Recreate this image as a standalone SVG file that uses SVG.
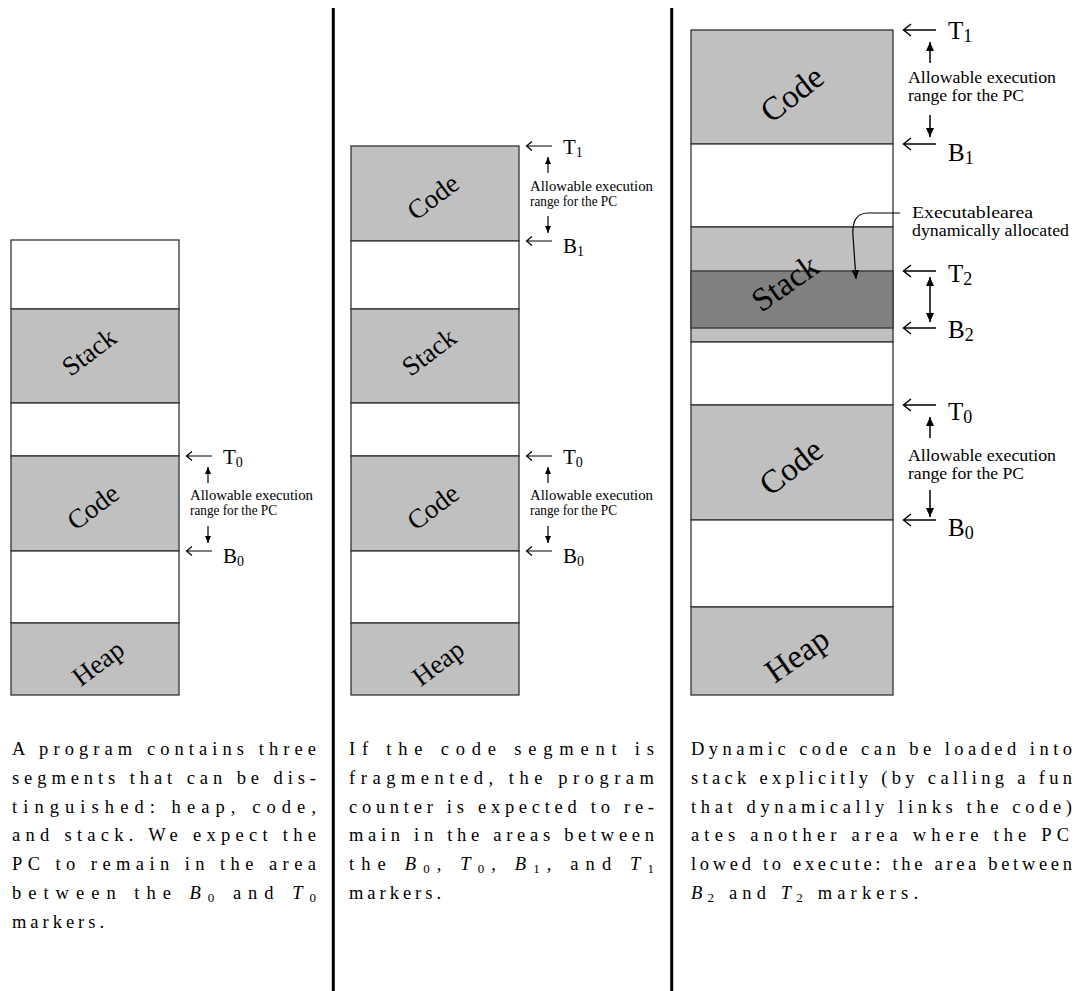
<svg xmlns="http://www.w3.org/2000/svg" width="1075" height="991" viewBox="0 0 1075 991">
<style>
.w{fill:#fff;stroke:#333;stroke-width:1.3}
.g{fill:#c0c0c0;stroke:#333;stroke-width:1.3}
.d{fill:#808080;stroke:#333;stroke-width:1.3}
.seg{font-family:"Liberation Serif","Times New Roman",serif;fill:#000;text-anchor:middle}
.s1{font-size:27px}
.s3{font-size:33px}
.lbl{font-family:"Liberation Serif","Times New Roman",serif;fill:#000}
.m1{font-size:21px}
.m3{font-size:25px}
.a1{font-size:14px}
.a3{font-size:17px}
.para{font-family:"Liberation Serif","Times New Roman",serif;font-size:18.5px;fill:#000}
.ar{fill:none;stroke:#000;stroke-width:1.2}
.ar3{fill:none;stroke:#000;stroke-width:1.5}
.sep{stroke:#000;stroke-width:3}
</style>
<defs>
<marker id="hs" markerUnits="userSpaceOnUse" markerWidth="7" markerHeight="6" refX="7" refY="3" orient="auto"><path d="M0,0 L7,3 L0,6Z" fill="#000"/></marker>
<marker id="hl" markerUnits="userSpaceOnUse" markerWidth="9" markerHeight="8" refX="9" refY="4" orient="auto-start-reverse"><path d="M0,0 L9,4 L0,8Z" fill="#000"/></marker>
</defs>

<g id="separators">
<line class="sep" x1="333.3" y1="8" x2="333.3" y2="991"/>
<line class="sep" x1="671.7" y1="8" x2="671.7" y2="991"/>
</g>

<!-- Column 1 -->
<g id="c1-free-top"><rect class="w" x="11" y="240" width="168" height="69"/></g>
<g id="c1-stack"><rect class="g" x="11" y="309" width="168" height="94"/><text class="seg s1" x="89" y="352" dy="9" transform="rotate(-37 89 352)">Stack</text></g>
<g id="c1-free-mid"><rect class="w" x="11" y="403" width="168" height="53"/></g>
<g id="c1-code"><rect class="g" x="11" y="456" width="168" height="95"/><text class="seg s1" x="93" y="507" dy="9" transform="rotate(-37 93 507)">Code</text></g>
<g id="c1-free-low"><rect class="w" x="11" y="551" width="168" height="72"/></g>
<g id="c1-heap"><rect class="g" x="11" y="623" width="168" height="72"/><text class="seg s1" x="98" y="663" dy="9" transform="rotate(-37 98 663)">Heap</text></g>
<g id="c1-labels">
<text class="lbl m1" x="223" y="464">T<tspan dy="3" font-size="14">0</tspan></text>
<text class="lbl m1" x="223" y="563">B<tspan dy="3" font-size="14">0</tspan></text>
<text class="lbl a1" x="190" y="500" textLength="123" lengthAdjust="spacingAndGlyphs">Allowable execution</text>
<text class="lbl a1" x="190" y="515" textLength="87" lengthAdjust="spacingAndGlyphs">range for the PC</text>
</g>

<!-- Column 2 -->
<g id="c2-code-top"><rect class="g" x="351" y="146" width="168" height="95"/><text class="seg s1" x="433" y="197" dy="9" transform="rotate(-37 433 197)">Code</text></g>
<g id="c2-free-top"><rect class="w" x="351" y="241" width="168" height="68"/></g>
<g id="c2-stack"><rect class="g" x="351" y="309" width="168" height="94"/><text class="seg s1" x="429" y="352" dy="9" transform="rotate(-37 429 352)">Stack</text></g>
<g id="c2-free-mid"><rect class="w" x="351" y="403" width="168" height="53"/></g>
<g id="c2-code"><rect class="g" x="351" y="456" width="168" height="95"/><text class="seg s1" x="433" y="507" dy="9" transform="rotate(-37 433 507)">Code</text></g>
<g id="c2-free-low"><rect class="w" x="351" y="551" width="168" height="72"/></g>
<g id="c2-heap"><rect class="g" x="351" y="623" width="168" height="72"/><text class="seg s1" x="438" y="663" dy="9" transform="rotate(-37 438 663)">Heap</text></g>
<g id="c2-labels">
<text class="lbl m1" x="563" y="154">T<tspan dy="3" font-size="14">1</tspan></text>
<text class="lbl m1" x="563" y="253">B<tspan dy="3" font-size="14">1</tspan></text>
<text class="lbl a1" x="530" y="191" textLength="123" lengthAdjust="spacingAndGlyphs">Allowable execution</text>
<text class="lbl a1" x="530" y="206" textLength="87" lengthAdjust="spacingAndGlyphs">range for the PC</text>
<text class="lbl m1" x="563" y="464">T<tspan dy="3" font-size="14">0</tspan></text>
<text class="lbl m1" x="563" y="563">B<tspan dy="3" font-size="14">0</tspan></text>
<text class="lbl a1" x="530" y="500" textLength="123" lengthAdjust="spacingAndGlyphs">Allowable execution</text>
<text class="lbl a1" x="530" y="515" textLength="87" lengthAdjust="spacingAndGlyphs">range for the PC</text>
</g>

<!-- Column 3 -->
<g id="c3-code-top"><rect class="g" x="691" y="30" width="202" height="114"/><text class="seg s3" x="792" y="94" dy="11" transform="rotate(-38 792 94)">Code</text></g>
<g id="c3-free-top"><rect class="w" x="691" y="144" width="202" height="83"/></g>
<g id="c3-stack"><rect class="g" x="691" y="227" width="202" height="115"/><rect class="d" x="691" y="271" width="202" height="57"/><text class="seg s3" x="785" y="283" dy="11" transform="rotate(-35 785 283)">Stack</text></g>
<g id="c3-free-mid"><rect class="w" x="691" y="342" width="202" height="63"/></g>
<g id="c3-code"><rect class="g" x="691" y="405" width="202" height="115"/><text class="seg s3" x="791" y="467" dy="11" transform="rotate(-38 791 467)">Code</text></g>
<g id="c3-free-low"><rect class="w" x="691" y="520" width="202" height="87"/></g>
<g id="c3-heap"><rect class="g" x="691" y="607" width="202" height="88"/><text class="seg s3" x="797" y="655" dy="11" transform="rotate(-35 797 655)">Heap</text></g>
<g id="c3-labels">
<text class="lbl m3" x="948" y="39">T<tspan dy="3" font-size="18">1</tspan></text>
<text class="lbl m3" x="948" y="161">B<tspan dy="3" font-size="18">1</tspan></text>
<text class="lbl a3" x="908" y="83" textLength="148" lengthAdjust="spacingAndGlyphs">Allowable execution</text>
<text class="lbl a3" x="908" y="101" textLength="116" lengthAdjust="spacingAndGlyphs">range for the PC</text>
<text class="lbl a3" x="912" y="218" textLength="121" lengthAdjust="spacingAndGlyphs">Executablearea</text>
<text class="lbl a3" x="912" y="236" textLength="157" lengthAdjust="spacingAndGlyphs">dynamically allocated</text>
<text class="lbl m3" x="948" y="282">T<tspan dy="3" font-size="18">2</tspan></text>
<text class="lbl m3" x="948" y="338">B<tspan dy="3" font-size="18">2</tspan></text>
<text class="lbl m3" x="948" y="420">T<tspan dy="3" font-size="18">0</tspan></text>
<text class="lbl m3" x="948" y="536">B<tspan dy="3" font-size="18">0</tspan></text>
<text class="lbl a3" x="908" y="461" textLength="148" lengthAdjust="spacingAndGlyphs">Allowable execution</text>
<text class="lbl a3" x="908" y="479" textLength="116" lengthAdjust="spacingAndGlyphs">range for the PC</text>
</g>

<g id="connectors">
<path class="ar" d="M212,456 H187 M192,451.5 L186.5,456 L192,460.5"/>
<path class="ar" d="M212,551 H187 M192,546.5 L186.5,551 L192,555.5"/>
<line class="ar" x1="208" y1="483" x2="208" y2="467" marker-end="url(#hs)"/>
<line class="ar" x1="208" y1="526" x2="208" y2="543" marker-end="url(#hs)"/>
<path class="ar" d="M552,146 H527 M532,141.5 L526.5,146 L532,150.5"/>
<path class="ar" d="M552,241 H527 M532,236.5 L526.5,241 L532,245.5"/>
<line class="ar" x1="548" y1="173" x2="548" y2="157" marker-end="url(#hs)"/>
<line class="ar" x1="548" y1="216" x2="548" y2="233" marker-end="url(#hs)"/>
<path class="ar" d="M552,456 H527 M532,451.5 L526.5,456 L532,460.5"/>
<path class="ar" d="M552,551 H527 M532,546.5 L526.5,551 L532,555.5"/>
<line class="ar" x1="548" y1="483" x2="548" y2="467" marker-end="url(#hs)"/>
<line class="ar" x1="548" y1="526" x2="548" y2="543" marker-end="url(#hs)"/>
<path class="ar3" d="M936,30 H904 M911,24 L903.5,30 L911,36"/>
<path class="ar3" d="M936,144 H904 M911,138 L903.5,144 L911,150"/>
<line class="ar3" x1="930" y1="63" x2="930" y2="42" marker-end="url(#hl)"/>
<line class="ar3" x1="930" y1="115" x2="930" y2="137" marker-end="url(#hl)"/>
<path class="ar3" d="M936,271 H904 M911,265 L903.5,271 L911,277"/>
<path class="ar3" d="M936,328 H904 M911,322 L903.5,328 L911,334"/>
<line class="ar3" x1="930" y1="277" x2="930" y2="322" marker-start="url(#hl)" marker-end="url(#hl)"/>
<path class="ar3" d="M936,405 H904 M911,399 L903.5,405 L911,411"/>
<path class="ar3" d="M936,520 H904 M911,514 L903.5,520 L911,526"/>
<line class="ar3" x1="930" y1="438" x2="930" y2="417" marker-end="url(#hl)"/>
<line class="ar3" x1="930" y1="490" x2="930" y2="517" marker-end="url(#hl)"/>
<path class="ar" d="M900,213 H868 C856,213 852,222 853,236 L856,279" marker-end="url(#hl)"/>
</g>

<g id="caption-1" class="para">
<text x="12" y="755" textLength="304" lengthAdjust="spacing">A program contains three</text>
<text x="12" y="784" textLength="304" lengthAdjust="spacing">segments that can be dis-</text>
<text x="12" y="813" textLength="304" lengthAdjust="spacing">tinguished:   heap,   code,</text>
<text x="12" y="841" textLength="304" lengthAdjust="spacing">and stack.  We expect the</text>
<text x="12" y="870" textLength="304" lengthAdjust="spacing">PC to remain in the area</text>
<text x="12" y="899" textLength="304" lengthAdjust="spacing">between  the  <tspan font-style="italic">B</tspan><tspan dy="3" font-size="13">0</tspan><tspan dy="-3">  and  </tspan><tspan font-style="italic">T</tspan><tspan dy="3" font-size="13">0</tspan></text>
<text x="12" y="928" textLength="92" lengthAdjust="spacing">markers.</text>
</g>
<g id="caption-2" class="para">
<text x="349" y="755" textLength="305" lengthAdjust="spacing">If  the  code  segment  is</text>
<text x="349" y="784" textLength="305" lengthAdjust="spacing">fragmented, the program</text>
<text x="349" y="813" textLength="305" lengthAdjust="spacing">counter is expected to re-</text>
<text x="349" y="841" textLength="305" lengthAdjust="spacing">main in the areas between</text>
<text x="349" y="870" textLength="305" lengthAdjust="spacing">the  <tspan font-style="italic">B</tspan><tspan dy="3" font-size="13">0</tspan><tspan dy="-3">,  </tspan><tspan font-style="italic">T</tspan><tspan dy="3" font-size="13">0</tspan><tspan dy="-3">,  </tspan><tspan font-style="italic">B</tspan><tspan dy="3" font-size="13">1</tspan><tspan dy="-3">,  and  </tspan><tspan font-style="italic">T</tspan><tspan dy="3" font-size="13">1</tspan></text>
<text x="349" y="899" textLength="92" lengthAdjust="spacing">markers.</text>
</g>
<g id="caption-3" class="para">
<text x="691" y="755" textLength="381" lengthAdjust="spacing">Dynamic code can be loaded into</text>
<text x="691" y="784" textLength="381" lengthAdjust="spacing">stack explicitly (by calling a fun</text>
<text x="691" y="813" textLength="381" lengthAdjust="spacing">that dynamically links the code)</text>
<text x="691" y="841" textLength="378" lengthAdjust="spacing">ates another area where the PC</text>
<text x="691" y="870" textLength="381" lengthAdjust="spacing">lowed to execute: the area between</text>
<text x="691" y="899" textLength="227" lengthAdjust="spacing"><tspan font-style="italic">B</tspan><tspan dy="3" font-size="13">2</tspan><tspan dy="-3"> and </tspan><tspan font-style="italic">T</tspan><tspan dy="3" font-size="13">2</tspan><tspan dy="-3"> markers.</tspan></text>
</g>
</svg>
